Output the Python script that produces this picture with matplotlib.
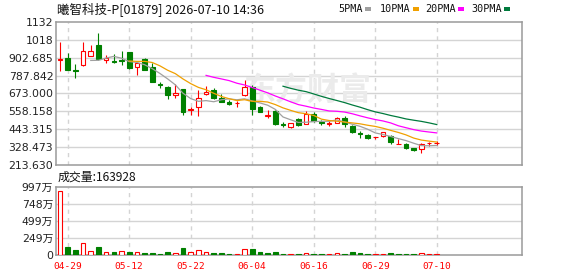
import numpy as np
import pandas as pd
import matplotlib
matplotlib.use("Agg")
import matplotlib.pyplot as plt
from matplotlib.patches import Rectangle

# ---------------- data ----------------
dates = ['04-28', '04-29', '04-30', '05-04', '05-05', '05-06', '05-07', '05-08', '05-11', '05-12',
         '05-13', '05-14', '05-15', '05-18', '05-19', '05-20', '05-21', '05-22', '05-26', '05-27',
         '05-28', '05-29', '06-01', '06-02', '06-03', '06-04', '06-05', '06-08', '06-09', '06-10',
         '06-11', '06-12', '06-15', '06-16', '06-17', '06-18', '06-22', '06-23', '06-24', '06-25',
         '06-26', '06-29', '06-30', '07-02', '07-03', '07-06', '07-07', '07-08', '07-09', '07-10']

opens = [890, 901, 823, 854, 912, 983, 888, 880, 888, 940,
         841, 895, 843, 735, 717, 661, 700, 568, 584, 668,
         696, 646, 620, 609, 663, 715, 588, 529, 562, 476,
         456, 507, 475, 543, 492, 480, 486, 517, 466, 420,
         406, 393, 402, 400, 348, 348, 321, 314, 352, 357]
highs = [1004, 933, 862, 1004, 983, 1062, 918, 927, 944, 940,
         869, 901, 871, 749, 721, 732, 700, 588, 696, 721,
         706, 668, 631, 625, 760, 728, 590, 567, 567, 492,
         486, 514, 562, 552, 503, 498, 524, 528, 471, 435,
         411, 396, 428, 406, 379, 353, 321, 353, 363, 368]
lows = [816, 826, 773, 848, 912, 890, 869, 869, 858, 830,
        794, 826, 747, 706, 636, 646, 533, 535, 529, 664,
        636, 616, 599, 584, 659, 538, 552, 513, 470, 456,
        449, 466, 475, 492, 471, 464, 482, 460, 417, 385,
        381, 378, 395, 348, 347, 316, 306, 293, 338, 342]
closes = [893, 826, 820, 944, 944, 897, 899, 874, 884, 837,
          869, 826, 747, 729, 663, 678, 556, 575, 642, 685,
          642, 620, 604, 612, 717, 573, 556, 532, 477, 473,
          482, 471, 539, 498, 482, 483, 514, 475, 424, 416,
          389, 395, 424, 359, 349, 325, 310, 347, 355, 358]
volumes = [9350000, 1210000, 770000, 1740000, 580000, 1210000, 440000, 440000, 580000, 440000,
           440000, 330000, 330000, 190000, 480000, 330000, 1060000, 440000, 730000, 440000,
           330000, 330000, 190000, 190000, 870000, 920000, 440000, 330000, 480000, 190000,
           190000, 190000, 330000, 190000, 190000, 190000, 330000, 190000, 480000, 330000,
           190000, 190000, 190000, 330000, 190000, 190000, 190000, 330000, 190000, 163928]

ma_periods = [5, 10, 20, 30]
ma_labels = ['5PMA', '10PMA', '20PMA', '30PMA']
ma_colors = ['#a0a0a0', '#f0a000', '#ff00ff', '#007a3d']

price_ticks = [213.630, 328.473, 443.315, 558.158, 673.000, 787.842, 902.685, 1018, 1132]
price_tick_labels = ['213.630', '328.473', '443.315', '558.158', '673.000', '787.842', '902.685', '1018', '1132']
vol_ticks = [0, 2492500, 4985000, 7477500, 9970000]
vol_tick_labels = ['0', '249万', '499万', '748万', '997万']
date_ticks = ['04-29', '05-12', '05-22', '06-04', '06-16', '06-29', '07-10']

title = '曦智科技-P[01879] 2026-07-10 14:36'
vol_title = '成交量:163928'
watermark = '东方财富'

# ---------------- style ----------------
RED = '#ff0000'
GREEN = '#008000'
GRID = '#d4d4d4'
SPINE = '#9a9a9a'
W, H = 578, 276

fig = plt.figure(figsize=(W / 100, H / 100), dpi=100)
fig.patch.set_facecolor('white')

def fx(px):
    return px / W

def fy(py):
    return 1 - py / H

ax = fig.add_axes([fx(56), fy(165), fx(522 - 56), (165 - 22) / H])
axv = fig.add_axes([fx(56), fy(255), fx(522 - 56), (255 - 187) / H])

x = np.arange(len(dates))
o = np.array(opens, float)
h = np.array(highs, float)
l = np.array(lows, float)
c = np.array(closes, float)
v = np.array(volumes, float)

xlim = (-0.52, 60.08)
date_pos = [dates.index(d) for d in date_ticks]

for a in (ax, axv):
    a.set_xlim(*xlim)
    a.set_facecolor('white')
    for s in a.spines.values():
        s.set_color(SPINE)
        s.set_linewidth(1.1)
    a.set_xticks(date_pos)
    a.tick_params(axis='both', length=0)
    for p in date_pos:
        a.axvline(p, color=GRID, lw=1.0, ls=(0, (3, 3)), zorder=0)

# price axis
ax.set_ylim(213.630, 1132.366)
ax.set_yticks(price_ticks)
ax.set_yticklabels(price_tick_labels, family='DejaVu Sans', fontsize=7.8, color='#222222')
ax.tick_params(axis='y', pad=2)
ax.set_xticklabels([])
for t in price_ticks[1:-1]:
    ax.axhline(t, color=GRID, lw=1.0, zorder=0)

# watermark (behind the marks)
ax.text(fx(307), fy(92), watermark, transform=fig.transFigure,
        family='Noto Sans CJK SC', fontsize=23, fontweight='bold',
        color='#ebebeb', ha='center', va='center', zorder=1)

# candles
bw = 0.6
for i in x:
    up = c[i] >= o[i]
    col = RED if up else GREEN
    ax.vlines(i, l[i], h[i], color=col, lw=0.8, zorder=3)
    bottom = min(o[i], c[i])
    height = max(abs(c[i] - o[i]), 0.5)
    ax.add_patch(Rectangle((i - bw / 2, bottom), bw, height,
                           facecolor='white' if up else GREEN,
                           edgecolor=col, lw=0.8, zorder=4))

# moving averages
cs = pd.Series(c)
for p, col in zip(ma_periods, ma_colors):
    ma = cs.rolling(p).mean()
    ax.plot(x, ma.values, color=col, lw=0.9, zorder=5)

# volume axis
axv.set_ylim(0, 9970000)
axv.set_yticks(vol_ticks)
axv.set_yticklabels(vol_tick_labels, family=['DejaVu Sans', 'Noto Sans CJK SC'],
                    fontsize=7.8, color='#222222')
axv.tick_params(axis='y', pad=2)
for t in vol_ticks[1:-1]:
    axv.axhline(t, color=GRID, lw=1.0, zorder=0)

prev = np.concatenate([[o[0]], c[:-1]])
vup = c >= prev
faces = ['white' if u else GREEN for u in vup]
edges = [RED if u else GREEN for u in vup]
axv.bar(x, v, width=bw, color=faces, edgecolor=edges, linewidth=0.8, zorder=3)

axv.set_xticklabels(date_ticks, family='DejaVu Sans Mono', fontsize=6.8, color=RED)
axv.tick_params(axis='x', pad=5)

# titles
fig.text(fx(57), fy(9.5), title, family=['Noto Sans CJK SC', 'DejaVu Sans'],
         fontsize=9, color='#111111', ha='left', va='center')
fig.text(fx(58), fy(177), vol_title, family=['Noto Sans CJK SC', 'DejaVu Sans'],
         fontsize=8.6, color='#111111', ha='left', va='center')

# MA legend
leg_x = [338, 380, 425, 471]
for lab, col, lx in zip(ma_labels, ma_colors, leg_x):
    fig.text(fx(lx), fy(9.3), lab, family='DejaVu Sans Mono', fontsize=7.3,
             color='#111111', ha='left', va='center')
    sq_x = lx + len(lab) * 6.05 + 3
    fig.patches.append(Rectangle((fx(sq_x), fy(11)), 5.5 / W, 4 / H,
                                 transform=fig.transFigure, facecolor=col,
                                 edgecolor='none'))

fig.savefig('out.png', dpi=100, facecolor='white')
